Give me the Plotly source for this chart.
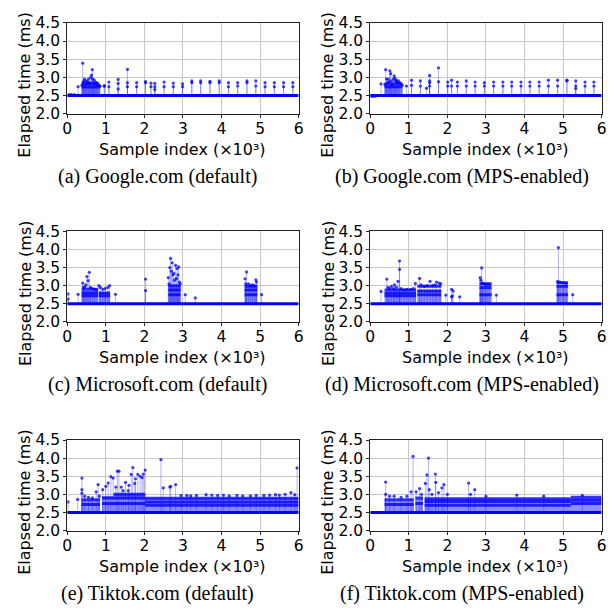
import plotly.graph_objects as go

# ---------------- data (sample index in thousands, elapsed time in ms) ----------------
BASE = 2.5
N_SAMPLES = 6.0
x_ticks = [0, 1, 2, 3, 4, 5, 6]
y_ticks = [2.0, 2.5, 3.0, 3.5, 4.0, 4.5]

captions = ["(a) Google.com (default)", "(b) Google.com (MPS-enabled)",
            "(c) Microsoft.com (default)", "(d) Microsoft.com (MPS-enabled)",
            "(e) Tiktok.com (default)", "(f) Tiktok.com (MPS-enabled)"]

# (a) Google default
a_x = [0.05, 0.10, 0.18, 0.28,
       0.38, 0.40, 0.41, 0.43, 0.45, 0.47, 0.49, 0.51, 0.53, 0.55, 0.57, 0.59, 0.61, 0.63, 0.65,
       0.66, 0.68, 0.70, 0.72, 0.74, 0.76, 0.78, 0.80, 0.83, 0.85,
       0.96, 0.96, 1.08, 1.08, 1.32, 1.32, 1.32, 1.56, 1.56, 1.56, 1.80, 1.80, 2.03, 2.03,
       2.17, 2.17, 2.27, 2.27, 2.27, 2.51, 2.51, 2.75, 2.75, 2.99, 2.99, 3.23, 3.23, 3.46, 3.46,
       3.70, 3.70, 3.94, 3.94, 4.18, 4.18, 4.42, 4.42, 4.66, 4.66, 4.89, 4.89, 5.13, 5.13,
       5.37, 5.37, 5.61, 5.61, 5.85, 5.85]
a_y = [2.52, 2.52, 2.52, 2.74,
       2.78, 3.39, 2.85, 2.90, 2.95, 2.80, 2.90, 2.85, 2.88, 2.95, 2.82, 2.85, 3.00, 3.06, 3.21,
       2.95, 2.85, 2.92, 2.80, 2.85, 2.85, 2.80, 2.75, 2.78, 2.75,
       2.77, 2.75, 2.87, 2.74, 2.94, 2.83, 2.68, 3.22, 2.85, 2.74, 2.85, 2.74, 2.88, 2.85,
       2.84, 2.74, 2.83, 2.74, 2.66, 2.87, 2.74, 2.84, 2.74, 2.82, 2.74, 2.90, 2.85, 2.90, 2.85,
       2.89, 2.85, 2.90, 2.85, 2.85, 2.74, 2.85, 2.76, 2.90, 2.85, 2.90, 2.76, 2.85, 2.74,
       2.85, 2.74, 2.85, 2.74, 2.85, 2.74]
a_band_x0 = [0.37]
a_band_x1 = [0.85]
a_band_top = [2.78]
a_row_x0 = [0.37, 0.37]
a_row_x1 = [0.83, 0.83]
a_row_y = [2.73, 2.82]

# (b) Google MPS-enabled
b_x = [0.28,
       0.38, 0.40, 0.42, 0.45, 0.47, 0.49, 0.51, 0.53, 0.55, 0.57, 0.60, 0.62, 0.64, 0.66, 0.68,
       0.70, 0.73, 0.76, 0.80, 0.83,
       0.94, 1.07, 1.07, 1.30, 1.30, 1.46, 1.54, 1.54, 1.54, 1.54, 1.77, 1.77, 2.01, 2.01,
       2.11, 2.11, 2.26, 2.26, 2.49, 2.49, 2.72, 2.72, 2.96, 2.96, 3.20, 3.20, 3.44, 3.44,
       3.67, 3.67, 3.91, 3.91, 4.14, 4.14, 4.38, 4.38, 4.62, 4.62, 4.86, 4.86, 5.10, 5.10,
       5.33, 5.33, 5.33, 5.57, 5.57, 5.80, 5.80]
b_y = [2.82,
       2.80, 3.21, 2.95, 2.85, 2.95, 2.88, 3.18, 3.10, 2.90, 2.80, 2.95, 3.04, 2.98, 2.90, 2.92,
       2.85, 2.90, 2.85, 2.82, 2.78,
       2.76, 2.92, 2.78, 2.90, 2.76, 2.70, 3.05, 2.90, 2.85, 2.76, 3.26, 2.88, 2.87, 2.76,
       2.92, 2.76, 2.87, 2.76, 2.90, 2.76, 2.87, 2.76, 2.85, 2.76, 2.87, 2.76, 2.87, 2.76,
       2.87, 2.76, 2.87, 2.76, 2.87, 2.76, 2.87, 2.76, 2.92, 2.76, 2.92, 2.76, 2.92, 2.90,
       2.90, 2.76, 2.69, 2.87, 2.76, 2.87, 2.76]
b_band_x0 = [0.37]
b_band_x1 = [0.83]
b_band_top = [2.78]
b_row_x0 = [0.0, 0.37, 0.37]
b_row_x1 = [0.16, 0.83, 0.83]
b_row_y = [2.48, 2.74, 2.82]

# (c) Microsoft default
c_x = [0.02, 0.02, 0.28,
       0.40, 0.42, 0.45, 0.48, 0.51, 0.54, 0.57, 0.60, 0.65, 0.70, 0.75,
       0.82, 0.86, 0.92, 0.98, 1.05, 1.10, 1.25, 2.03, 2.03,
       2.62, 2.64, 2.66, 2.68, 2.70, 2.72, 2.74, 2.76, 2.78, 2.81, 2.83, 2.85, 2.87, 2.89, 2.91, 2.93,
       3.06, 3.32,
       4.61, 4.63, 4.65, 4.70, 4.75, 4.80, 4.85, 4.89, 4.91, 5.04]
c_y = [2.77, 2.63, 2.76,
       3.07, 2.95, 2.96, 3.02, 3.25, 3.14, 3.37, 2.95, 2.92, 2.90, 2.88,
       3.00, 2.95, 2.90, 2.92, 2.95, 3.00, 2.76, 3.18, 2.86,
       3.22, 3.05, 3.50, 3.75, 3.40, 3.63, 3.30, 3.34, 3.15, 3.56, 3.20, 3.47, 3.30, 3.52, 3.10, 3.05,
       2.75, 2.66,
       3.19, 3.05, 3.38, 3.05, 3.00, 3.02, 3.00, 3.16, 3.10, 2.75]
c_band_x0 = [0.37, 0.82, 2.62, 4.60]
c_band_x1 = [0.80, 1.11, 2.94, 4.93]
c_band_top = [2.85, 2.82, 3.00, 3.00]
c_row_x0 = [0.37, 0.37, 0.37, 0.82, 0.82, 2.62, 2.62, 2.62, 4.60, 4.60, 4.60]
c_row_x1 = [0.80, 0.80, 0.80, 1.11, 1.11, 2.94, 2.94, 2.94, 4.93, 4.93, 4.93]
c_row_y = [2.72, 2.80, 2.90, 2.72, 2.80, 2.75, 2.88, 3.00, 2.75, 2.88, 2.98]

# (d) Microsoft MPS-enabled
d_x = [0.28,
       0.43, 0.46, 0.50, 0.55, 0.60, 0.63, 0.68, 0.72, 0.76, 0.76, 0.80, 0.88, 0.95, 1.05, 1.12, 1.17,
       1.28, 1.32, 1.40, 1.48, 1.55, 1.62, 1.68, 1.72, 1.79, 1.83,
       1.96, 2.11, 2.11, 2.13, 2.15, 2.32,
       2.85, 2.87, 2.89, 2.91, 2.95, 3.00, 3.05, 3.10, 3.27,
       4.86, 4.88, 4.92, 5.00, 5.08, 5.25]
d_y = [2.84,
       3.18, 2.95, 2.92, 2.98, 2.92, 3.02, 2.95, 3.12, 3.68, 3.45, 2.92, 2.88, 2.90, 2.90, 2.92, 3.06,
       3.20, 3.02, 2.98, 3.00, 3.12, 3.00, 3.02, 3.10, 3.07, 3.05,
       2.74, 2.90, 2.69, 2.72, 2.85, 2.69,
       3.22, 3.15, 3.49, 3.07, 3.05, 3.02, 3.05, 3.02, 2.74,
       3.12, 4.05, 3.10, 3.08, 3.06, 2.75]
d_band_x0 = [0.37, 1.22, 2.83, 4.83]
d_band_x1 = [1.19, 1.84, 3.15, 5.13]
d_band_top = [2.82, 2.88, 2.95, 3.00]
d_row_x0 = [0.37, 0.37, 0.37, 1.22, 1.22, 1.22, 2.83, 2.83, 2.83, 4.83, 4.83, 4.83]
d_row_x1 = [1.19, 1.19, 1.19, 1.84, 1.84, 1.84, 3.15, 3.15, 3.15, 5.13, 5.13, 5.13]
d_row_y = [2.72, 2.80, 2.88, 2.75, 2.85, 2.98, 2.75, 2.95, 3.05, 2.75, 2.98, 3.08]

# (e) Tiktok default
e_x = [0.02, 0.27, 0.38, 0.38, 0.38, 0.45, 0.55, 0.65, 0.75, 0.80, 0.83,
       0.92, 1.00, 1.06, 1.13, 1.19, 1.26, 1.30, 1.34, 1.40, 1.45, 1.51, 1.58, 1.60, 1.66, 1.70,
       1.75, 1.77, 1.83, 1.89, 1.94, 1.97, 2.02,
       2.43, 2.49, 2.66, 2.68, 2.81,
       2.95, 3.10, 3.20, 3.35, 3.60, 3.75, 3.90, 4.05, 4.20, 4.40, 4.55, 4.75, 4.90, 5.10,
       5.25, 5.40, 5.50, 5.65, 5.80, 5.90, 5.96]
e_y = [2.79, 2.86, 3.45, 3.13, 3.03, 2.95, 2.92, 2.90, 3.07, 3.27, 2.95,
       3.13, 3.22, 3.31, 3.49, 3.45, 3.20, 3.64, 3.64, 3.20, 3.10, 3.33, 3.10, 3.25, 3.55, 3.74,
       3.30, 3.43, 3.55, 3.50, 3.46, 3.56, 3.67,
       3.96, 3.18, 3.20, 3.22, 3.27,
       2.97, 2.97, 2.96, 2.97, 2.99, 2.98, 2.97, 2.98, 2.96, 2.97, 2.96, 2.96, 2.97, 2.97,
       2.98, 2.99, 2.98, 3.00, 3.05, 2.99, 3.73]
e_band_x0 = [0.37, 0.90, 1.20, 2.02]
e_band_x1 = [0.85, 1.20, 2.02, 6.00]
e_band_top = [2.82, 2.95, 3.00, 2.90]
e_row_x0 = [0.37, 0.37, 0.90, 0.90, 1.20, 2.02, 2.02, 2.02]
e_row_x1 = [0.85, 0.85, 2.02, 2.02, 2.02, 6.00, 6.00, 6.00]
e_row_y = [2.72, 2.85, 2.75, 2.90, 3.00, 2.70, 2.79, 2.89]

# (f) Tiktok MPS-enabled
f_x = [0.40, 0.40, 0.50, 0.62, 0.80, 0.95, 1.06, 1.11, 1.19, 1.28, 1.33, 1.43, 1.47, 1.51,
       1.53, 1.60, 1.69, 1.70, 1.77, 1.86, 1.91, 2.00, 2.55, 2.60, 2.71, 3.00, 3.80, 4.50, 5.50]
f_y = [3.34, 3.00, 2.95, 2.95, 2.92, 2.95, 3.07, 4.05, 3.07, 3.16, 3.00, 3.30, 3.54, 4.00,
       3.13, 3.00, 3.56, 3.33, 3.05, 3.18, 3.27, 3.00, 3.31, 3.00, 3.13, 2.95, 2.98, 2.95, 2.97]
f_band_x0 = [0.37, 1.17, 1.41, 5.20]
f_band_x1 = [1.13, 1.37, 5.20, 6.00]
f_band_top = [2.82, 2.88, 2.88, 2.90]
f_row_x0 = [0.37, 0.37, 1.17, 1.17, 1.41, 1.41, 1.41, 5.20, 5.20, 5.20]
f_row_x1 = [1.13, 1.13, 1.37, 1.37, 5.20, 5.20, 5.20, 6.00, 6.00, 6.00]
f_row_y = [2.72, 2.85, 2.75, 2.90, 2.70, 2.80, 2.88, 2.75, 2.84, 2.92]

panels = [
    (a_x, a_y, a_band_x0, a_band_x1, a_band_top, a_row_x0, a_row_x1, a_row_y),
    (b_x, b_y, b_band_x0, b_band_x1, b_band_top, b_row_x0, b_row_x1, b_row_y),
    (c_x, c_y, c_band_x0, c_band_x1, c_band_top, c_row_x0, c_row_x1, c_row_y),
    (d_x, d_y, d_band_x0, d_band_x1, d_band_top, d_row_x0, d_row_x1, d_row_y),
    (e_x, e_y, e_band_x0, e_band_x1, e_band_top, e_row_x0, e_row_x1, e_row_y),
    (f_x, f_y, f_band_x0, f_band_x1, f_band_top, f_row_x0, f_row_x1, f_row_y),
]

# ---------------- layout geometry (pixels) ----------------
W, H = 613, 615
col_px = [(63.3, 298.5), (371.3, 606.5)]
row_px = [(14.3, 107.7), (229.0, 322.3), (444.0, 537.3)]
cap_cx = [155, 465]
SANS = "DejaVu Sans"
SERIF = "Liberation Serif"
FS = 16

BLUE = "#0000ff"
fig = go.Figure()
layout = dict(width=W, height=H, margin=dict(l=0, r=0, t=0, b=0),
              paper_bgcolor="white", plot_bgcolor="white", showlegend=False,
              barmode="overlay", annotations=[])

for i, (px, py, bx0, bx1, btop, rx0, rx1, ry) in enumerate(panels):
    r, c = divmod(i, 2)
    k = "" if i == 0 else str(i + 1)
    xa, ya = "x" + k, "y" + k
    # dense regions (overlapping stems)
    fig.add_trace(go.Bar(x=[(u + v) / 2 for u, v in zip(bx0, bx1)],
                         y=[t - BASE for t in btop], base=BASE,
                         width=[v - u for u, v in zip(bx0, bx1)],
                         marker=dict(color="rgba(0,0,255,0.45)", line_width=0),
                         xaxis=xa, yaxis=ya, hoverinfo="skip"))
    # stems
    sx, sy = [], []
    for xv, yv in zip(px, py):
        sx += [xv, xv, None]
        sy += [BASE, yv, None]
    fig.add_trace(go.Scatter(x=sx, y=sy, mode="lines",
                             line=dict(color="rgba(0,0,255,0.3)", width=1),
                             xaxis=xa, yaxis=ya, hoverinfo="skip"))
    # dense marker rows
    lx, ly = [], []
    for u, v, yv in zip(rx0, rx1, ry):
        lx += [u, v, None]
        ly += [yv, yv, None]
    fig.add_trace(go.Scatter(x=lx, y=ly, mode="lines",
                             line=dict(color="rgba(0,0,255,0.8)", width=3),
                             xaxis=xa, yaxis=ya, hoverinfo="skip"))
    # markers
    fig.add_trace(go.Scatter(x=px, y=py, mode="markers",
                             marker=dict(color="rgba(0,0,255,0.75)", size=3.2, line_width=0),
                             xaxis=xa, yaxis=ya, hoverinfo="skip"))
    # baseline
    fig.add_trace(go.Scatter(x=[0, N_SAMPLES], y=[BASE, BASE], mode="lines",
                             line=dict(color=BLUE, width=3),
                             xaxis=xa, yaxis=ya, hoverinfo="skip"))

    L, R = col_px[c]
    T, B = row_px[r]
    common = dict(showline=True, mirror=True, linecolor="#222", linewidth=1,
                  ticks="outside", ticklen=3, tickcolor="#222",
                  showgrid=True, gridcolor="#c8c8c8", gridwidth=1, zeroline=False,
                  tickfont=dict(family=SANS, size=15.5, color="black"))
    layout["xaxis" + k] = dict(domain=[L / W, R / W], anchor=ya, range=[0, 6],
                               tickvals=x_ticks, ticktext=[str(t) for t in x_ticks],
                               ticklabelstandoff=-2, **common)
    layout["yaxis" + k] = dict(domain=[1 - B / H, 1 - T / H], anchor=xa, range=[2.0, 4.5],
                               tickvals=y_ticks, ticktext=["%.1f" % t for t in y_ticks], **common)
    cx = (L + R) / 2
    layout["annotations"] += [
        dict(text="Sample index (×10³)", x=cx / W, y=1 - (B + 37) / H,
             xref="paper", yref="paper", showarrow=False, xanchor="center", yanchor="middle",
             font=dict(family=SANS, size=FS, color="black")),
        dict(text="Elapsed time (ms)", x=(L - 43) / W, y=1 - ((T + B) / 2 + 17) / H,
             xref="paper", yref="paper", showarrow=False, xanchor="center", yanchor="middle",
             textangle=-90, font=dict(family=SANS, size=FS, color="black")),
        dict(text=captions[i], x=cap_cx[c] / W, y=1 - (B + 65) / H,
             xref="paper", yref="paper", showarrow=False, xanchor="center", yanchor="middle",
             font=dict(family=SERIF, size=20, color="black")),
    ]

fig.update_layout(**layout)
fig.write_html("out.html")
